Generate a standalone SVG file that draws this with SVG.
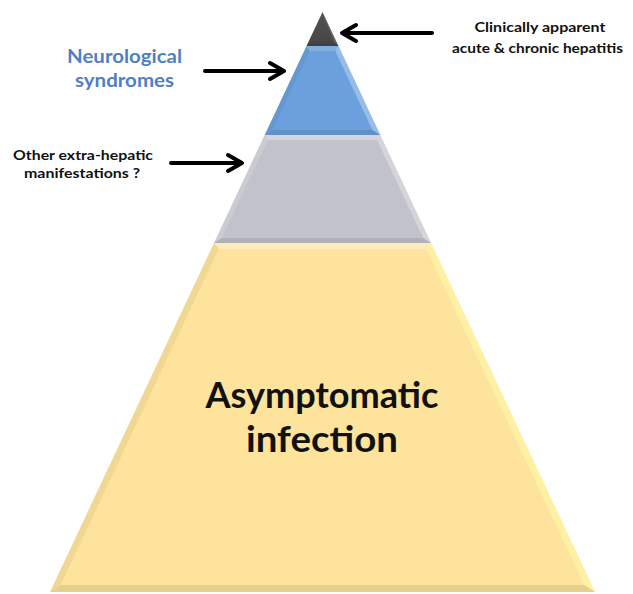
<svg xmlns="http://www.w3.org/2000/svg" width="633" height="594" viewBox="0 0 633 594">
<defs>
<style>
.lbl{font-family:Lato,"Liberation Sans",Arial,sans-serif;font-weight:bold;fill:#111}
.blue{fill:#4f7fc4}
.arr{fill:none;stroke:#000;stroke-width:4;stroke-linecap:round;stroke-linejoin:round}
.hi{fill:#fff;fill-opacity:0.3}
.hi2{fill:#fff;fill-opacity:0.15}
.sh{fill:#000;fill-opacity:0.05}
.sh2{fill:#000;fill-opacity:0.09}
</style>
<linearGradient id="gDark" x1="0" y1="0" x2="0" y2="1">
<stop offset="0" stop-color="#555"/><stop offset="1" stop-color="#444"/>
</linearGradient>
</defs>
<rect width="633" height="594" fill="#fff"/>
<g id="tier-asymptomatic">
<polygon points="214,243 431,243 595,592 50,592" fill="#fde39b"/>
<polygon class="hi" points="214,243 431,243 426.3,249 218.7,249"/>
<polygon fill="#fff7a8" fill-opacity="0.7" points="431,243 595,592 584.2,585 426.3,249"/>
<polygon class="sh2" points="595,592 50,592 60.8,585 584.2,585"/>
<polygon class="sh" points="50,592 214,243 218.7,249 60.8,585"/>
<text class="lbl" x="322" y="408" font-size="36" text-anchor="middle" textLength="233" lengthAdjust="spacingAndGlyphs">Asymptomatic</text>
<text class="lbl" x="322" y="452" font-size="36" text-anchor="middle" textLength="152" lengthAdjust="spacingAndGlyphs">infection</text>
</g>
<g id="tier-extrahepatic">
<polygon points="264.7,135 380.3,135 431,243 214,243" fill="#c2c2ca"/>
<polygon class="hi" points="264.7,135 380.3,135 377.1,140 267.9,140"/>
<polygon class="hi" points="380.3,135 431,243 423.2,238 377.1,140"/>
<polygon class="sh2" points="431,243 214,243 221.8,238 423.2,238"/>
<polygon class="hi2" points="214,243 264.7,135 267.9,140 221.8,238"/>
</g>
<g id="tier-neuro">
<polygon points="306.5,46 338.5,46 380.3,135 264.7,135" fill="#6ba0dc"/>
<polygon class="hi2" points="306.5,46 338.5,46 335.3,51 309.7,51"/>
<polygon class="hi" points="338.5,46 380.3,135 372.4,130 335.3,51"/>
<polygon class="sh2" points="380.3,135 264.7,135 272.6,130 372.4,130"/>
<polygon class="sh" points="264.7,135 306.5,46 309.7,51 272.6,130"/>
</g>
<g id="tier-hepatitis">
<polygon points="322.5,12 338.5,46 306.5,46" fill="url(#gDark)"/>
<polygon class="hi2" points="322.5,12 338.5,46 334,42"/>
<polygon class="sh" points="338.5,46 306.5,46 309,43 335,43"/>
</g>
<g id="label-hepatitis">
<text class="lbl" x="540" y="32" font-size="13.5" text-anchor="middle" textLength="131" lengthAdjust="spacingAndGlyphs">Clinically apparent</text>
<text class="lbl" x="537.5" y="53" font-size="13.5" text-anchor="middle" textLength="171" lengthAdjust="spacingAndGlyphs">acute &amp; chronic hepatitis</text>
</g>
<g id="label-neuro">
<text class="lbl blue" x="124.5" y="63" font-size="19" text-anchor="middle" textLength="115" lengthAdjust="spacingAndGlyphs">Neurological</text>
<text class="lbl blue" x="124.5" y="87" font-size="19" text-anchor="middle" textLength="99" lengthAdjust="spacingAndGlyphs">syndromes</text>
</g>
<g id="label-other">
<text class="lbl" x="83" y="160" font-size="13.5" text-anchor="middle" textLength="140" lengthAdjust="spacingAndGlyphs">Other extra-hepatic</text>
<text class="lbl" x="82" y="178" font-size="13.5" text-anchor="middle" textLength="116" lengthAdjust="spacingAndGlyphs">manifestations ?</text>
</g>
<g id="connectors">
<path class="arr" d="M432,33 H343 M356,25 L342,33 L356,41"/>
<path class="arr" d="M205,71 H283 M270,63 L284,71 L270,79"/>
<path class="arr" d="M171,163 H241 M228,155 L242,163 L228,171"/>
</g>
</svg>
